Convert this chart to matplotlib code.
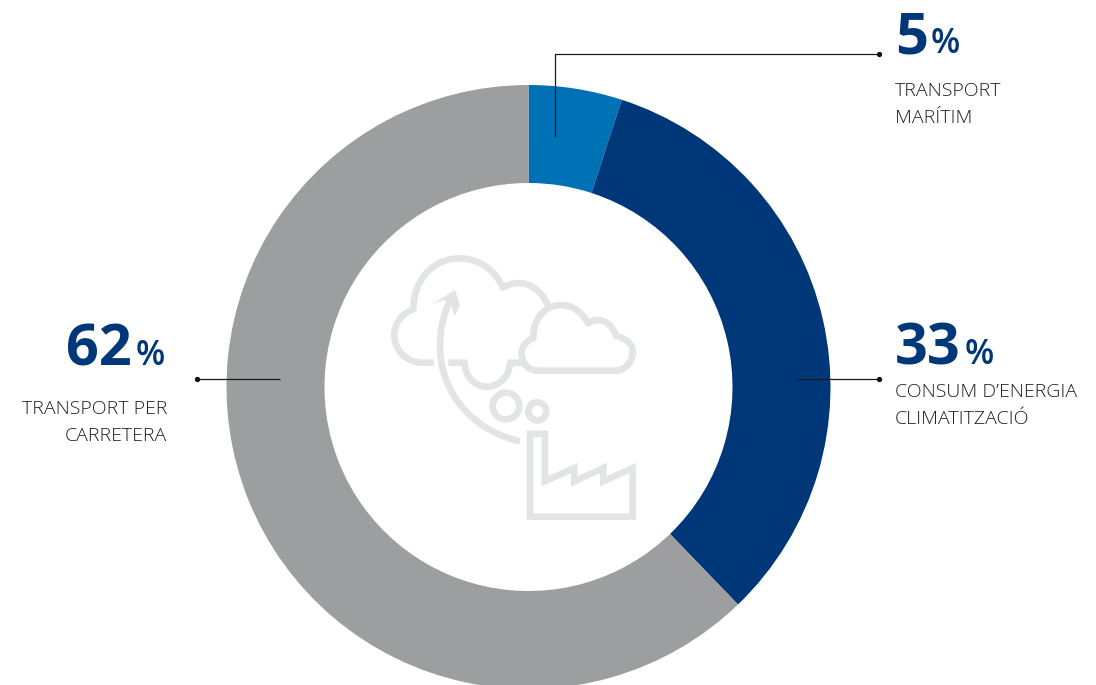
import matplotlib
matplotlib.use("Agg")
import matplotlib.pyplot as plt
from matplotlib.path import Path
from matplotlib.patches import PathPatch, Circle, Polygon

W, H = 1096, 685

categories = ["TRANSPORT\nMARÍTIM", "CONSUM D’ENERGIA\nCLIMATITZACIÓ", "TRANSPORT PER\nCARRETERA"]
# slice sizes as measured off the ring, the labels round them
values = [5.0, 32.8, 62.2]
colours = ["#0071B5", "#003778", "#9D9EA0"]

NAVY = "#003778"
ICON = "#E3E5E4"
TEXT = "#1F1F1F"
FONT = "Open Sans"
ICON_LW = 4.8

fig = plt.figure(figsize=(W / 100, H / 100), dpi=100)
ax = fig.add_axes([0, 0, 1, 1])

# pie in pixel coordinates, y goes up here
ax.pie(values, colors=colours, startangle=90, counterclock=False, center=(528.5, H - 387),
       radius=302, wedgeprops={"width": 98, "linewidth": 0})
ax.set_xlim(0, W)
ax.set_ylim(0, H)
ax.set_aspect("equal")
ax.axis("off")


def py(y):
    return H - y


def leader(xs, ys):
    ax.plot(xs, [py(y) for y in ys], color="#1A1A1A", lw=0.9, solid_capstyle="butt", zorder=5)
    ax.plot(xs[-1], py(ys[-1]), "o", color="#111111", ms=2.8, zorder=5)


leader([555, 555, 879], [137, 54, 54])
leader([797, 879], [379, 379])
leader([280, 197], [379, 379])


def big(x, y, s):
    ax.text(x, py(y), s, family=FONT, weight="bold", fontsize=41.5, color=NAVY, ha="left", va="baseline")


def pct(x, y):
    ax.text(x, py(y), "%", family=FONT, weight="semibold", fontsize=24.5, color=NAVY, ha="left", va="baseline")


def label(x, y, s, ha="left"):
    ax.text(x, py(y), s, family=FONT, weight="light", fontsize=14, color=TEXT, ha=ha, va="baseline")


big(895, 53, f"{values[0]:.0f}")
pct(931, 53)
label(895, 96, categories[0].split("\n")[0])
label(895, 123, categories[0].split("\n")[1])

big(895, 364, f"{values[1]:.0f}")
pct(965, 364)
label(895, 397, categories[1].split("\n")[0])
label(895, 424, categories[1].split("\n")[1])

big(66, 365, f"{values[2]:.0f}")
pct(136, 365)
label(167, 414, categories[2].split("\n")[0], ha="right")
label(167, 441, categories[2].split("\n")[1], ha="right")


# icon, outlined from a 3x crop whose corner is at (380, 240)
def ic(p):
    return (380 + p[0] / 3, H - (240 + p[1] / 3))


def curve(start, *segs, close=False):
    verts = [ic(start)]
    codes = [Path.MOVETO]
    for s in segs:
        if len(s) == 1:
            verts.append(ic(s[0]))
            codes.append(Path.LINETO)
        else:
            verts += [ic(q) for q in s]
            codes += [Path.CURVE4] * 3
    if close:
        verts.append(verts[0])
        codes.append(Path.CLOSEPOLY)
    return Path(verts, codes)


def stroke(path, join="round"):
    ax.add_patch(PathPatch(path, fc="none", ec=ICON, lw=ICON_LW, capstyle="butt", joinstyle=join, zorder=3))


# big cloud
stroke(curve((162, 368), [(125, 368)], [(80, 368), (43, 330), (43, 285)],
             [(43, 250), (65, 220), (100, 208)], [(100, 120), (160, 55), (238, 55)],
             [(300, 55), (350, 95), (368, 143)], [(425, 110), (480, 140), (503, 195)]))
stroke(curve((205, 368), [(254, 368)], [(254, 410), (285, 440), (320, 440)],
             [(360, 440), (390, 405), (390, 368)], [(430, 368)]))
# small cloud
stroke(curve((475, 392), [(710, 392)], [(735, 392), (758, 365), (758, 335)],
             [(758, 310), (735, 295), (708, 287)], [(695, 250), (660, 225), (625, 250)],
             [(605, 215), (575, 195), (545, 195)], [(495, 195), (458, 235), (460, 295)],
             [(440, 300), (425, 320), (425, 340)], [(425, 370), (445, 392), (475, 392)]))
# smoke
ax.add_patch(Circle(ic((378, 498)), 40 / 3, fc="none", ec=ICON, lw=ICON_LW, zorder=3))
ax.add_patch(Circle(ic((472, 514)), 27 / 3, fc="none", ec=ICON, lw=ICON_LW, zorder=3))
# arrow
stroke(curve((420, 604), [(270, 570), (180, 450), (180, 320)], [(180, 270), (190, 225), (208, 185)]))
ax.add_patch(Polygon([ic(p) for p in [(158, 192), (225, 150), (240, 195), (224, 228), (212, 190), (192, 180)]],
                     closed=True, fc=ICON, ec="none", zorder=3))
# factory
stroke(curve((450, 582), [(495, 582)], [(495, 724)], [(583, 684)], [(583, 724)], [(670, 684)], [(670, 724)],
             [(758, 684)], [(758, 830)], [(450, 830)], close=True), join="miter")

fig.savefig("out.png", dpi=100, facecolor="white")
